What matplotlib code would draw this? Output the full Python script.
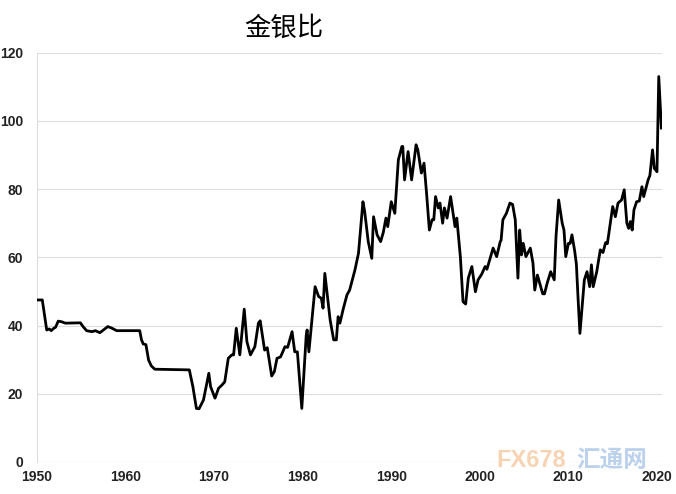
import matplotlib
matplotlib.use("Agg")
import matplotlib.pyplot as plt

# 金银比 (gold/silver ratio)
years = [
    1950.0, 1950.6, 1951.1, 1951.4, 1951.6, 1951.9, 1952.1, 1952.4, 1952.8, 1953.2,
    1954.9, 1955.2, 1955.6, 1956.2, 1956.6, 1957.1, 1958.0, 1958.4, 1959.0, 1961.6,
    1961.8, 1962.0, 1962.3, 1962.6, 1962.9, 1963.3, 1967.2, 1967.6, 1968.0, 1968.3,
    1968.8, 1969.4, 1969.6, 1970.1, 1970.5, 1970.9, 1971.2, 1971.6, 1972.0, 1972.2,
    1972.5, 1972.9, 1973.4, 1973.7, 1974.1, 1974.6, 1975.0, 1975.2, 1975.7, 1976.0,
    1976.5, 1976.8, 1977.1, 1977.5, 1978.0, 1978.3, 1978.8, 1979.1, 1979.4, 1979.9,
    1980.4, 1980.5, 1980.7, 1981.4, 1981.8, 1982.1, 1982.3, 1982.5, 1983.1, 1983.5,
    1983.8, 1984.0, 1984.2, 1984.6, 1985.0, 1985.3, 1985.9, 1986.3, 1986.8, 1987.0,
    1987.4, 1987.8, 1988.0, 1988.4, 1988.8, 1989.1, 1989.4, 1989.6, 1990.0, 1990.4,
    1990.8, 1991.2, 1991.3, 1991.5, 1991.9, 1992.3, 1992.8, 1993.0, 1993.4, 1993.7,
    1994.0, 1994.3, 1994.6, 1994.8, 1995.0, 1995.3, 1995.5, 1995.8, 1996.0, 1996.3,
    1996.7, 1997.2, 1997.4, 1997.8, 1998.1, 1998.4, 1998.7, 1999.1, 1999.5, 1999.8,
    2000.2, 2000.6, 2000.8, 2001.1, 2001.5, 2001.9, 2002.3, 2002.4, 2002.6, 2003.0,
    2003.4, 2003.7, 2004.0, 2004.3, 2004.5, 2004.7, 2004.9, 2005.2, 2005.7, 2006.0,
    2006.2, 2006.5, 2006.8, 2007.1, 2007.3, 2007.6, 2008.0, 2008.4, 2008.6, 2008.9,
    2009.3, 2009.5, 2009.7, 2010.0, 2010.2, 2010.4, 2010.7, 2010.9, 2011.1, 2011.3,
    2011.8, 2012.1, 2012.4, 2012.6, 2012.8, 2013.2, 2013.6, 2013.9, 2014.2, 2014.4,
    2015.0, 2015.3, 2015.6, 2016.0, 2016.3, 2016.6, 2016.8, 2017.0, 2017.2, 2017.4,
    2017.7, 2018.0, 2018.3, 2018.5, 2019.0, 2019.2, 2019.5, 2019.7, 2020.0, 2020.2,
    2020.5,
]
ratio = [
    47.5, 47.5, 38.7, 39.0, 38.5, 39.2, 39.5, 41.3, 41.1, 40.7,
    40.8, 39.7, 38.5, 38.2, 38.5, 37.9, 39.7, 39.3, 38.5, 38.5,
    35.8, 34.6, 34.4, 29.9, 28.2, 27.2, 27.0, 22.1, 15.7, 15.6,
    18.2, 26.0, 22.1, 18.7, 21.6, 22.6, 23.5, 30.4, 31.4, 31.4,
    39.2, 31.4, 44.8, 35.3, 31.4, 33.8, 40.7, 41.4, 32.8, 33.5,
    25.2, 26.5, 30.4, 30.8, 33.8, 33.6, 38.2, 32.3, 32.3, 15.7,
    37.2, 38.7, 32.3, 51.4, 48.5, 48.0, 45.1, 55.3, 41.6, 35.8,
    35.8, 42.6, 40.7, 45.1, 49.0, 50.4, 56.3, 61.2, 76.3, 73.4,
    64.6, 59.7, 71.9, 66.6, 64.6, 67.3, 71.5, 69.0, 76.3, 72.9,
    88.6, 92.5, 92.5, 82.7, 91.0, 82.7, 93.0, 91.5, 84.7, 87.6,
    78.3, 68.0, 71.0, 71.0, 77.8, 74.5, 75.9, 70.0, 74.5, 71.5,
    77.8, 69.0, 71.5, 60.2, 47.0, 46.3, 53.9, 57.3, 49.9, 53.4,
    55.0, 57.3, 56.5, 59.2, 62.7, 60.2, 64.6, 65.0, 71.0, 72.9,
    75.9, 75.5, 71.0, 53.9, 68.0, 60.7, 64.1, 60.2, 62.7, 58.3,
    50.4, 54.8, 52.0, 49.3, 49.3, 52.4, 55.8, 53.4, 66.1, 76.8,
    70.0, 68.0, 60.2, 64.1, 64.1, 66.6, 62.0, 58.0, 47.5, 37.7,
    53.4, 55.8, 51.4, 57.8, 51.4, 55.8, 62.2, 61.4, 64.3, 64.0,
    74.9, 71.9, 75.9, 76.8, 79.8, 70.0, 68.5, 70.5, 68.0, 73.9,
    76.3, 76.5, 80.7, 77.8, 82.7, 84.0, 91.5, 86.1, 85.1, 113.0,
    97.9,
]
x_ticks = [1950, 1960, 1970, 1980, 1990, 2000, 2010, 2020]
y_ticks = [0, 20, 40, 60, 80, 100, 120]

plt.rcParams["font.family"] = ["Liberation Sans", "Noto Sans CJK SC", "DejaVu Sans"]

fig = plt.figure(figsize=(6.76, 4.94), dpi=100)
ax = fig.add_axes([0.0547, 0.0648, 0.9245, 0.8286])

ax.plot(years, ratio, color="black", lw=2.0, solid_joinstyle="round", zorder=3)

ax.set_xlim(1950, 2020.56)
ax.set_ylim(0, 120)
ax.set_xticks(x_ticks)
ax.set_yticks(y_ticks)
ax.set_xticklabels([str(t) for t in x_ticks], fontsize=10, fontweight="bold", color="#222222")
ax.set_yticklabels([str(t) for t in y_ticks], fontsize=10, fontweight="bold", color="#222222")
ax.tick_params(axis="both", length=0)
ax.tick_params(axis="y", pad=10)
ax.tick_params(axis="x", pad=6)

ax.grid(True, axis="y", color="#dcdcdc", lw=0.8, zorder=0)
for side in ["top", "right", "bottom"]:
    ax.spines[side].set_visible(False)
ax.spines["left"].set_color("#dcdcdc")
ax.spines["left"].set_linewidth(0.8)
ax.axhline(0, color="#dcdcdc", lw=0.8, zorder=0)

fig.text(0.42, 0.943, "金银比", fontsize=19, ha="center", va="center",
         family=["Noto Sans CJK SC"], color="black")

# faint watermark as in the source image
fig.text(0.735, 0.068, "FX678", fontsize=17, fontweight="bold", color="#f6c9a0",
         ha="left", va="center", alpha=0.8)
fig.text(0.853, 0.068, "汇通网", fontsize=17, fontweight="bold", color="#aac6e8",
         ha="left", va="center", family=["Noto Sans CJK SC"], alpha=0.8)

fig.savefig("out.png", dpi=100)
